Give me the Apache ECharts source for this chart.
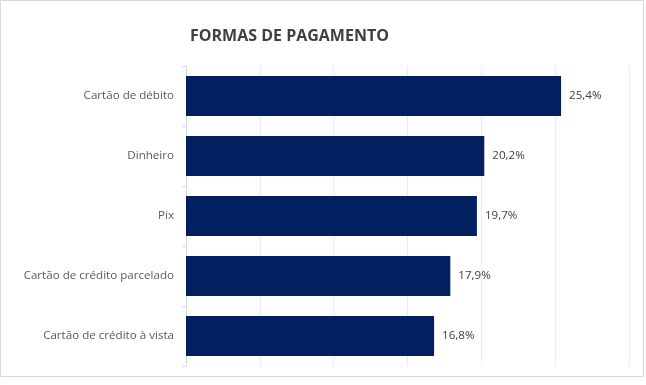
<!DOCTYPE html>
<html><head><meta charset="utf-8">
<script src="https://cdn.jsdelivr.net/npm/echarts@6/dist/echarts.min.js"></script>
<style>html,body{margin:0;padding:0;background:#fff}#c{width:646px;height:385px}</style>
</head><body><div id="c"></div>
<script>
const categories = ["Cartão de débito","Dinheiro","Pix","Cartão de crédito parcelado","Cartão de crédito à vista"];
const values = [25.4, 20.2, 19.7, 17.9, 16.8];
const title = "FORMAS DE PAGAMENTO";

const chart = echarts.init(document.getElementById('c'), null, {renderer:'canvas'});
chart.setOption({
  animation:false,
  backgroundColor:'#fff',
  title:{text:title, left:185, top:23, textStyle:{fontFamily:'Open Sans', fontWeight:'bold', fontSize:16, color:'#404040'}},
  graphic:[{type:'rect', shape:{x:0.5,y:0.5,width:643,height:376}, style:{fill:'none', stroke:'#d9d9d9', lineWidth:1}, silent:true}],
  grid:{left:186, right:17, top:66, bottom:19, containLabel:false},
  xAxis:{type:'value', min:0, max:30, interval:5,
    axisLine:{show:false}, axisTick:{show:false}, axisLabel:{show:false},
    splitLine:{lineStyle:{color:'#ececec', width:1}}},
  yAxis:{type:'category', data:categories, inverse:true,
    axisLine:{lineStyle:{color:'#d9d9d9'}},
    axisTick:{show:true, length:4, lineStyle:{color:'#d9d9d9'}},
    axisLabel:{margin:12, fontFamily:'Open Sans', fontSize:11.6, color:'#595959'}},
  series:[{type:'bar', data:values, barCategoryGap:'33%',
    itemStyle:{color:'#002060'},
    label:{show:true, position:'right', distance:8, fontFamily:'Open Sans', fontSize:11.6, color:'#404040',
      formatter:p=>p.value.toFixed(1).replace('.',',')+'%'}}]
});
</script></body></html>
